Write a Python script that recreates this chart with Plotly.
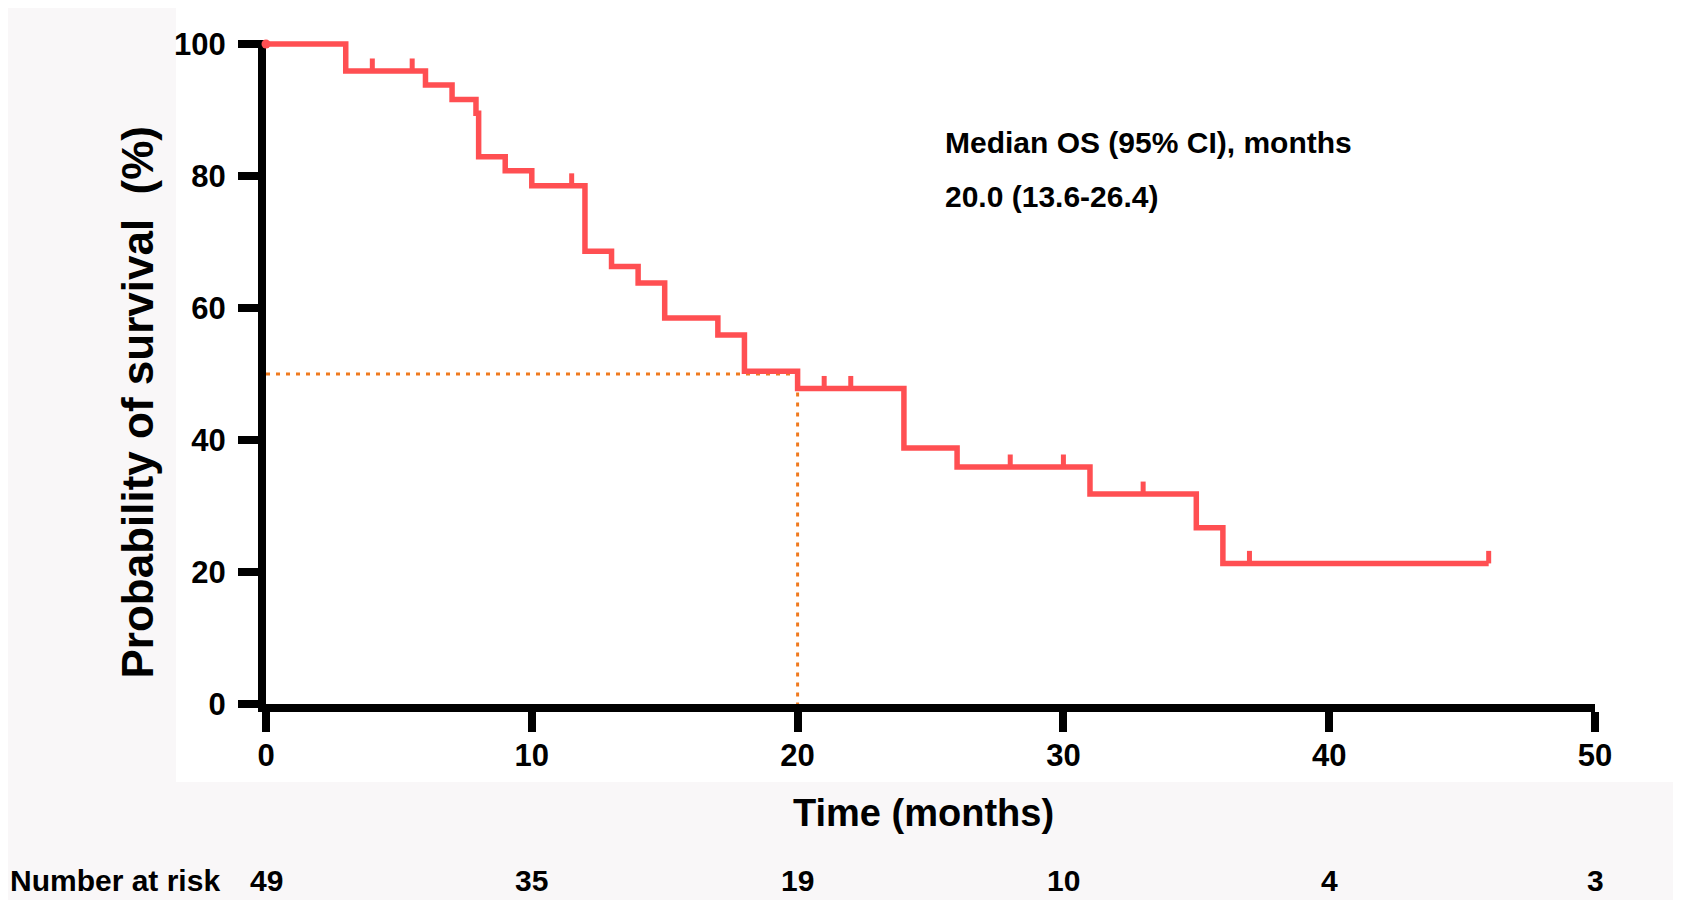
import numpy as np
import plotly.graph_objects as go

# ------------------------------------------------------------
# Kaplan-Meier OS data
# ------------------------------------------------------------
km_time = [0, 3, 6, 7, 7.9, 8.0, 9, 10, 12, 13, 14, 15, 17, 18, 20, 24, 26, 31, 35, 36, 46]
km_surv = [100, 95.9, 93.8, 91.6, 89.5, 82.9, 80.8, 78.5, 68.6, 66.3, 63.8, 58.5, 55.9,
           50.4, 47.8, 38.8, 35.9, 31.8, 26.7, 21.3, 21.3]
censor_time = [4, 5.5, 11.5, 21, 22, 28, 30, 33, 37, 46]

median_os = 20.0
median_level = 50

risk_time = [0, 10, 20, 30, 40, 50]
risk_n = [49, 35, 19, 10, 4, 3]

x_ticks = [0, 10, 20, 30, 40, 50]
y_ticks = [0, 20, 40, 60, 80, 100]

RED = "#FF4F52"
ORANGE = "#F07A1E"
FONT = "Liberation Sans, Arial, sans-serif"

# survival value at each censor time (step function lookup)
idx = np.searchsorted(km_time, censor_time, side="right") - 1
censor_surv = [km_surv[i] for i in idx]

fig = go.Figure()

# white panel behind the chart
fig.add_shape(type="rect", xref="paper", yref="paper",
              x0=-0.0677, x1=1.1, y0=-0.1175, y1=1.06,
              fillcolor="white", line_width=0, layer="below")

# median guide lines
fig.add_trace(go.Scatter(
    x=[0, median_os, median_os], y=[median_level, median_level, 0],
    mode="lines", line=dict(color=ORANGE, width=3, dash="4px,6px"),
    hoverinfo="skip", showlegend=False))

# KM step curve
fig.add_trace(go.Scatter(
    x=km_time, y=km_surv, mode="lines", line_shape="hv",
    line=dict(color=RED, width=5.5), showlegend=False))

# censor marks (drawn upwards from the curve)
fig.add_trace(go.Scatter(
    x=censor_time, y=censor_surv, mode="markers",
    marker=dict(size=1, color="rgba(0,0,0,0)"),
    error_y=dict(type="constant", value=1.9, valueminus=0, symmetric=False,
                 color=RED, thickness=5, width=0),
    showlegend=False))

# start dot
fig.add_trace(go.Scatter(
    x=km_time[:1], y=km_surv[:1], mode="markers",
    marker=dict(size=9, color=RED), showlegend=False, cliponaxis=False))


def txt(text, x, y, size, xanchor="center", xref="paper", angle=0):
    return dict(text=f"<b>{text}</b>", xref=xref, yref="paper", x=x, y=y,
                xanchor=xanchor, yanchor="middle", textangle=angle,
                showarrow=False, font=dict(size=size, family=FONT, color="black"))


annotations = [
    txt("Probability of survival  (%)", -0.0963, 0.454, 44, angle=-90),
    txt("Time (months)", 0.4951, -0.1642, 38),
    txt("Median OS (95% CI), months", 0.5094, 0.8449, 30, xanchor="left"),
    txt("20.0 (13.6-26.4)", 0.5094, 0.7643, 30, xanchor="left"),
    txt("Number at risk", -0.194, -0.2651, 30, xanchor="left"),
]
for t, n in zip(risk_time, risk_n):
    annotations.append(txt(n, t, -0.2651, 30, xref="x"))

fig.update_layout(
    width=1681, height=900,
    margin=dict(l=258, r=94, t=32, b=204),
    paper_bgcolor="#F9F7F8", plot_bgcolor="white",
    font=dict(family=FONT, color="black"),
    annotations=annotations,
    xaxis=dict(range=[0, 50], tickvals=x_ticks, showgrid=False, zeroline=False,
               showline=True, linecolor="black", linewidth=8,
               ticks="outside", ticklen=20, tickwidth=8, tickcolor="black",
               tickfont=dict(size=31, family=FONT, weight="bold"),
               ticklabelstandoff=-3, layer="below traces"),
    yaxis=dict(range=[0, 100.6], tickvals=y_ticks, showgrid=False, zeroline=False,
               showline=True, linecolor="black", linewidth=8,
               ticks="outside", ticklen=20, tickwidth=8, tickcolor="black",
               tickfont=dict(size=31, family=FONT, weight="bold"),
               ticklabelstandoff=6, layer="below traces"),
)

fig.write_html("out.html")
